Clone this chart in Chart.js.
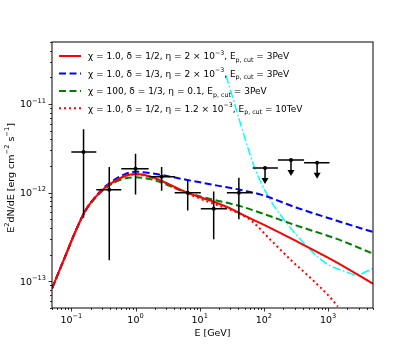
<!DOCTYPE html>
<html lang="en">
<head>
<meta charset="UTF-8">
<title>SED model curves</title>
<script src="https://cdn.jsdelivr.net/npm/chart.js"></script>
<style>
    html, body { margin: 0; padding: 0; background: #fff; }
    .chart-container { width: 415px; height: 346px; }
</style>
</head>
<body>
<div class="chart-container">
    <canvas id="myChart" width="415" height="346"></canvas>
</div>
<script>
// energies in GeV, fluxes (E^2 dN/dE) in erg cm^-2 s^-1
const energyModel = [0.05, 0.08, 0.115, 0.166, 0.237, 0.34, 0.487, 0.7, 1.0, 1.7, 6.4, 19, 30.5, 44, 90, 316, 1334, 5000];
const fluxRedSolid = [8.3e-14, 1.9e-13, 3.6e-13, 6.3e-13, 8.9e-13, 1.15e-12, 1.36e-12, 1.55e-12, 1.62e-12, 1.52e-12, 1.0e-12, 7.6e-13, 6.6e-13, 5.75e-13, 4.5e-13, 2.85e-13, 1.65e-13, 9.4e-14];
const fluxBlueDashed = [8.3e-14, 1.9e-13, 3.6e-13, 6.3e-13, 9.0e-13, 1.18e-12, 1.42e-12, 1.63e-12, 1.72e-12, 1.66e-12, 1.39e-12, 1.2e-12, 1.13e-12, 1.07e-12, 9.5e-13, 6.8e-13, 4.85e-13, 3.6e-13];
const fluxGreenDashed = [8.3e-14, 1.9e-13, 3.6e-13, 6.2e-13, 8.7e-13, 1.12e-12, 1.32e-12, 1.45e-12, 1.49e-12, 1.42e-12, 1.0e-12, 8.1e-13, 7.5e-13, 7.0e-13, 5.9e-13, 4.27e-13, 3.03e-13, 2.05e-13];

const energyDotted = [0.05, 0.08, 0.115, 0.166, 0.237, 0.34, 0.487, 0.7, 1.0, 1.7, 6.4, 19, 30.5, 63, 129, 265, 540, 1114, 1415];
const fluxRedDotted = [8.3e-14, 1.9e-13, 3.6e-13, 6.3e-13, 8.9e-13, 1.15e-12, 1.36e-12, 1.55e-12, 1.6e-12, 1.5e-12, 9.8e-13, 7.2e-13, 6.4e-13, 4.85e-13, 2.9e-13, 1.73e-13, 1.08e-13, 6.4e-14, 5.2e-14];

const energyCyan = [25.6, 33, 42, 70, 114, 220, 452, 930, 1910, 2740, 5000];
const fluxCyan = [2.1e-11, 1.15e-11, 6.4e-12, 2.0e-12, 9.3e-13, 4.65e-13, 2.55e-13, 1.59e-13, 1.28e-13, 1.18e-13, 1.4e-13];

// measured points
const pointE = [0.155, 0.39, 1.0, 2.55, 6.5, 16.5, 40.7];
const pointF = [2.87e-12, 1.08e-12, 1.86e-12, 1.51e-12, 1.0e-12, 6.6e-13, 1.0e-12];
const pointELo = [0.1, 0.245, 0.6, 1.6, 4.07, 10.4, 26.5];
const pointEHi = [0.245, 0.6, 1.6, 4.07, 10.4, 26.5, 67];
const pointFLo = [5.2e-13, 1.73e-13, 9.5e-13, 1.05e-12, 6.3e-13, 2.98e-13, 5.0e-13];
const pointFHi = [5.2e-12, 1.95e-12, 2.74e-12, 1.95e-12, 1.36e-12, 1.03e-12, 1.47e-12];

// upper limits
const limitE = [104, 264, 674];
const limitF = [1.9e-12, 2.34e-12, 2.17e-12];
const limitELo = [67, 165, 422];
const limitEHi = [165, 422, 1050];

const xTickExponents = [-1, 0, 1, 2, 3];
const yTickExponents = [-13, -12, -11];

const legendLabels = [
    [{t: 'χ = 1.0, δ = 1/2, η = 2 × 10'}, {t: '−3', sup: true}, {t: ', E'}, {t: 'p, cut', sub: true}, {t: ' = 3PeV'}],
    [{t: 'χ = 1.0, δ = 1/3, η = 2 × 10'}, {t: '−3', sup: true}, {t: ', E'}, {t: 'p, cut', sub: true}, {t: ' = 3PeV'}],
    [{t: 'χ = 100, δ = 1/3, η = 0.1, E'}, {t: 'p, cut', sub: true}, {t: ' = 3PeV'}],
    [{t: 'χ = 1.0, δ = 1/2, η = 1.2 × 10'}, {t: '−3', sup: true}, {t: ', E'}, {t: 'p, cut', sub: true}, {t: ' = 10TeV'}]
];

const FONT = '"DejaVu Sans", sans-serif';

function toXY(xs, ys) {
    return xs.map((x, i) => ({x: x, y: ys[i]}));
}

// draws text made of normal / superscript / subscript pieces
function drawRich(ctx, parts, x, y, size, align) {
    const small = size * 0.7;
    let total = 0;
    const widths = parts.map(p => {
        ctx.font = (p.sup || p.sub ? small : size) + 'px ' + FONT;
        const w = ctx.measureText(p.t).width;
        total += w;
        return w;
    });
    let cx = x;
    if (align === 'center') cx = x - total / 2;
    if (align === 'right') cx = x - total;
    ctx.textAlign = 'left';
    ctx.textBaseline = 'alphabetic';
    parts.forEach((p, i) => {
        ctx.font = (p.sup || p.sub ? small : size) + 'px ' + FONT;
        let dy = 0;
        if (p.sup) dy = -size * 0.5;
        if (p.sub) dy = size * 0.25;
        ctx.fillText(p.t, cx, y + dy);
        cx += widths[i];
    });
}

function powParts(e) {
    return [{t: '10'}, {t: (e < 0 ? '−' : '') + Math.abs(e), sup: true}];
}

const decor = {
    id: 'decor',
    beforeDraw(chart) {
        const ctx = chart.ctx;
        ctx.save();
        ctx.fillStyle = '#fff';
        ctx.fillRect(0, 0, chart.width, chart.height);
        ctx.restore();
    },
    afterDatasetsDraw(chart) {
        const ctx = chart.ctx;
        const xs = chart.scales.x, ys = chart.scales.y;
        const a = chart.chartArea;
        ctx.save();

        // error bars
        ctx.strokeStyle = '#000';
        ctx.fillStyle = '#000';
        ctx.lineWidth = 1.5;
        pointE.forEach((e, i) => {
            const px = xs.getPixelForValue(e), py = ys.getPixelForValue(pointF[i]);
            ctx.beginPath();
            ctx.moveTo(xs.getPixelForValue(pointELo[i]), py);
            ctx.lineTo(xs.getPixelForValue(pointEHi[i]), py);
            ctx.moveTo(px, ys.getPixelForValue(pointFLo[i]));
            ctx.lineTo(px, ys.getPixelForValue(pointFHi[i]));
            ctx.stroke();
            ctx.beginPath();
            ctx.arc(px, py, 2, 0, Math.PI * 2);
            ctx.fill();
        });
        limitE.forEach((e, i) => {
            const px = xs.getPixelForValue(e), py = ys.getPixelForValue(limitF[i]);
            ctx.beginPath();
            ctx.moveTo(xs.getPixelForValue(limitELo[i]), py);
            ctx.lineTo(xs.getPixelForValue(limitEHi[i]), py);
            ctx.moveTo(px, py);
            ctx.lineTo(px, py + 12);
            ctx.stroke();
            ctx.beginPath();
            ctx.moveTo(px - 3.5, py + 10);
            ctx.lineTo(px + 3.5, py + 10);
            ctx.lineTo(px, py + 16);
            ctx.closePath();
            ctx.fill();
            ctx.beginPath();
            ctx.arc(px, py, 2, 0, Math.PI * 2);
            ctx.fill();
        });

        // frame
        ctx.lineWidth = 1;
        ctx.strokeRect(a.left, a.top, a.right - a.left, a.bottom - a.top);

        // ticks
        ctx.lineWidth = 0.8;
        ctx.beginPath();
        for (let n = -2; n <= 3; n++) {
            for (let k = 1; k <= 9; k++) {
                const v = k * Math.pow(10, n);
                if (v < xs.min || v > xs.max) continue;
                const p = Math.round(xs.getPixelForValue(v)) + 0.5;
                ctx.moveTo(p, a.bottom);
                ctx.lineTo(p, a.bottom + (k === 1 ? 3.5 : 2));
            }
        }
        for (let n = -14; n <= -11; n++) {
            for (let k = 1; k <= 9; k++) {
                const v = k * Math.pow(10, n);
                if (v < ys.min || v > ys.max) continue;
                const p = Math.round(ys.getPixelForValue(v)) + 0.5;
                ctx.moveTo(a.left, p);
                ctx.lineTo(a.left - (k === 1 ? 3.5 : 2), p);
            }
        }
        ctx.stroke();

        // tick labels
        ctx.fillStyle = '#000';
        xTickExponents.forEach(e => {
            drawRich(ctx, powParts(e), xs.getPixelForValue(Math.pow(10, e)), a.bottom + 15, 9.5, 'center');
        });
        yTickExponents.forEach(e => {
            drawRich(ctx, powParts(e), a.left - 6, ys.getPixelForValue(Math.pow(10, e)) + 3.5, 9.5, 'right');
        });

        // axis titles
        drawRich(ctx, [{t: 'E [GeV]'}], (a.left + a.right) / 2, 336, 9.5, 'center');
        ctx.save();
        ctx.translate(13.5, 178);
        ctx.rotate(-Math.PI / 2);
        drawRich(ctx, [{t: 'E'}, {t: '2', sup: true}, {t: 'dN/dE [erg cm'}, {t: '−2', sup: true}, {t: ' s'}, {t: '−1', sup: true}, {t: ']'}], 0, 0, 9.5, 'center');
        ctx.restore();

        // legend
        const rowY = [56, 73.5, 91, 108.3];
        chart.data.datasets.slice(0, 4).forEach((ds, i) => {
            ctx.strokeStyle = ds.borderColor;
            ctx.lineWidth = ds.borderWidth;
            ctx.setLineDash(ds.borderDash || []);
            ctx.beginPath();
            ctx.moveTo(59, rowY[i]);
            ctx.lineTo(81, rowY[i]);
            ctx.stroke();
            ctx.setLineDash([]);
            ctx.fillStyle = '#000';
            drawRich(ctx, legendLabels[i], 88, rowY[i] + 3.3, 9, 'left');
        });
        ctx.restore();
    }
};

const lineStyle = {pointRadius: 0, showLine: true, cubicInterpolationMode: 'monotone', fill: false};

new Chart(document.getElementById('myChart').getContext('2d'), {
    type: 'scatter',
    data: {
        datasets: [
            Object.assign({data: toXY(energyModel, fluxRedSolid), borderColor: '#ff0000', borderWidth: 2}, lineStyle),
            Object.assign({data: toXY(energyModel, fluxBlueDashed), borderColor: '#0000ff', borderWidth: 2, borderDash: [7, 3.5]}, lineStyle),
            Object.assign({data: toXY(energyModel, fluxGreenDashed), borderColor: '#008000', borderWidth: 2, borderDash: [7, 3.5]}, lineStyle),
            Object.assign({data: toXY(energyDotted, fluxRedDotted), borderColor: '#ff0000', borderWidth: 2, borderDash: [2, 3]}, lineStyle),
            Object.assign({data: toXY(energyCyan, fluxCyan), borderColor: '#00ffff', borderWidth: 1.5, borderDash: [8.5, 2.5, 1.5, 2.5]}, lineStyle)
        ]
    },
    options: {
        responsive: false,
        animation: false,
        devicePixelRatio: 1,
        layout: {padding: {left: 52, right: 42, top: 42, bottom: 38}},
        plugins: {legend: {display: false}, tooltip: {enabled: false}},
        scales: {
            x: {type: 'logarithmic', min: 0.05, max: 5000, display: false},
            y: {type: 'logarithmic', min: 5e-14, max: 5e-11, display: false}
        }
    },
    plugins: [decor]
});
</script>
</body>
</html>
